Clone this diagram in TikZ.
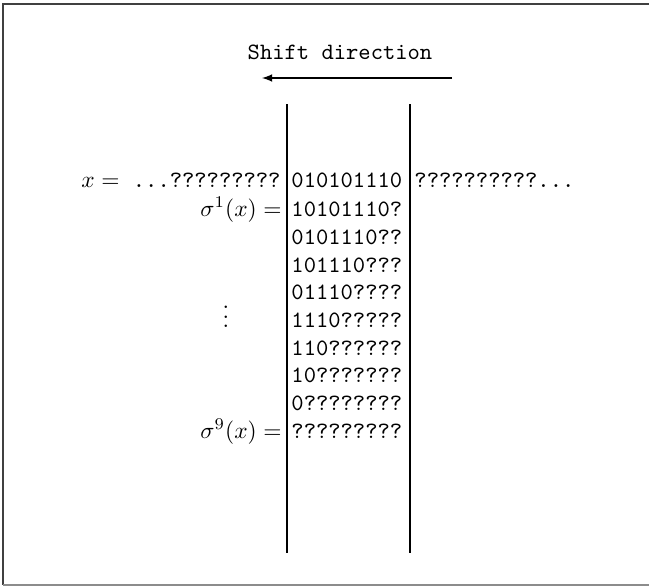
\documentclass[tikz,border=0pt]{standalone}
\usepackage{amsmath}
\begin{document}
\begin{tikzpicture}[x=0.015cm,y=-0.015cm,
  bits/.style={anchor=mid west,inner sep=0pt,font=\ttfamily},
  lab/.style={anchor=mid east,inner sep=0pt},
  rule/.style={line width=0.45pt},
  frame/.style={line width=0.7pt,black!75}]
\useasboundingbox (0,0) rectangle (649,587);
% frame
\coordinate (ftr) at (649,4);
\coordinate (ftl) at (3,4);
\coordinate (fbl) at (3,585);
\coordinate (fbr) at (649,585);
\draw[frame] (ftr) -- (ftl) -- (fbl);
\draw[frame,black!45] (fbl) -- (fbr);
% title and arrow
\node[inner sep=0pt,font=\ttfamily] (title) at (340,52) {Shift direction};
\coordinate (astart) at (452,78);
\coordinate (aend) at (262,78);
\draw[-latex,line width=0.5pt] (astart) -- (aend);
% vertical rules
\coordinate (l1t) at (287,104);
\coordinate (l1b) at (287,553);
\coordinate (l2t) at (410,104);
\coordinate (l2b) at (410,553);
\draw[rule] (l1t) -- (l1b);
\draw[rule] (l2t) -- (l2b);
% row 0
\node[anchor=mid west,inner sep=0pt] (xeq) at (81,182) {$x =$};
\node[lab,font=\ttfamily] (xleft) at (281,182) {...?????????};
\node[bits] (r0) at (291,182) {010101110};
\node[bits] (xright) at (414,182) {??????????...};
% rows
\node[lab] (s1) at (282,211) {$\sigma^1(x) =$};
\node[bits] (r1) at (291,211) {10101110?};
\node[bits] (r2) at (291,239) {0101110??};
\node[bits] (r3) at (291,267) {101110???};
\node[bits] (r4) at (291,294) {01110????};
\node[bits] (r5) at (291,322) {1110?????};
\node[bits] (r6) at (291,350) {110??????};
\node[bits] (r7) at (291,377) {10???????};
\node[bits] (r8) at (291,405) {0????????};
\node[bits] (r9) at (291,433) {?????????};
\node[inner sep=0pt] (vd) at (226,310) {$\vdots$};
\node[lab] (s9) at (282,433) {$\sigma^9(x) =$};
\end{tikzpicture}
\end{document}
